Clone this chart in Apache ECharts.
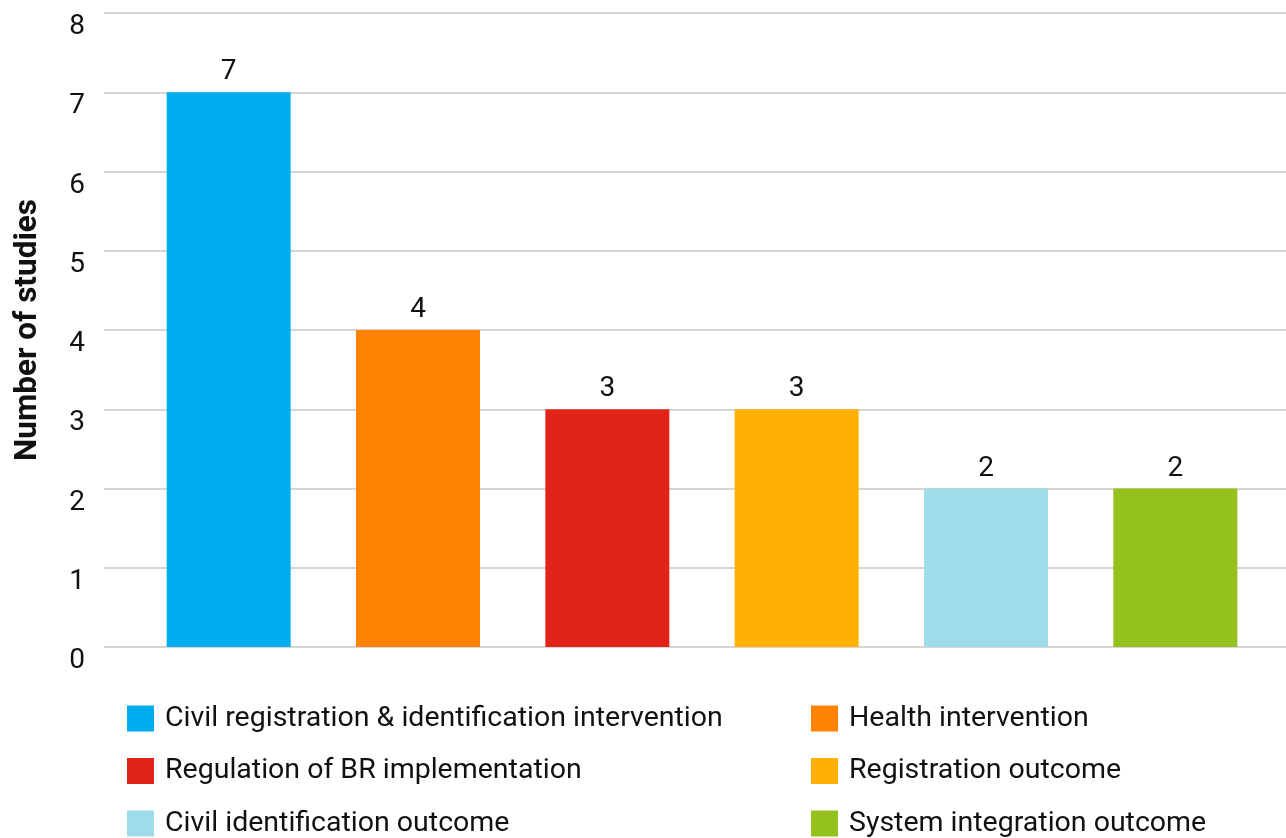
<!DOCTYPE html>
<html>
<head>
<meta charset="utf-8">
<script src="https://cdn.jsdelivr.net/npm/echarts@6/dist/echarts.min.js"></script>
<style>
  html, body { margin: 0; padding: 0; background: #fff; }
  #chart { width: 1286px; height: 838px; }
</style>
</head>
<body>
<div id="chart"></div>
<script>
const categories = [
  'Civil registration & identification intervention',
  'Health intervention',
  'Regulation of BR implementation',
  'Registration outcome',
  'Civil identification outcome',
  'System integration outcome'
];
const studyCounts = [7, 4, 3, 3, 2, 2];
const barColors = ['#00adee', '#ff8200', '#e2231a', '#ffb000', '#9ddce8', '#95c11f'];
const yTicks = [0, 1, 2, 3, 4, 5, 6, 7, 8];

const font = 'Roboto';
const chart = echarts.init(document.getElementById('chart'));

// one series per category so each gets its own legend entry
const series = categories.map((name, i) => ({
  name,
  type: 'bar',
  stack: 'all',
  xAxisIndex: 1,
  yAxisIndex: 1,
  barWidth: 124,
  itemStyle: { color: barColors[i] },
  label: {
    show: true,
    position: 'top',
    distance: 6,
    fontFamily: font,
    fontSize: 28,
    color: '#111',
    formatter: p => p.value
  },
  data: categories.map((c, j) => (j === i ? studyCounts[i] : '-'))
}));

const legendBase = {
  orient: 'vertical',
  padding: 0,
  height: 220,
  itemWidth: 27,
  itemHeight: 26,
  itemGap: 23.5,
  icon: 'rect',
  selectedMode: false,
  textStyle: { fontFamily: font, fontSize: 28.5, color: '#111', padding: [0, 0, 0, 6] }
};

chart.setOption({
  animation: false,
  grid: [
    // wide grid: gridlines and y labels
    { left: 104, right: 0, top: 13, bottom: 191 },
    // inner grid: bars
    { left: 134, right: 16, top: 13, bottom: 191 }
  ],
  legend: [
    Object.assign({}, legendBase, { left: 127, top: 704, data: categories.filter((c, i) => i % 2 === 0) }),
    Object.assign({}, legendBase, { left: 811, top: 704, data: categories.filter((c, i) => i % 2 === 1) })
  ],
  xAxis: [
    { type: 'value', gridIndex: 0, show: false, min: 0, max: 1 },
    {
      type: 'category',
      gridIndex: 1,
      data: categories,
      axisLine: { show: false },
      axisTick: { show: false },
      axisLabel: { show: false }
    }
  ],
  yAxis: [
    {
      type: 'value',
      gridIndex: 0,
      min: yTicks[0],
      max: yTicks[yTicks.length - 1],
      interval: 1,
      name: 'Number of studies',
      nameLocation: 'middle',
      nameGap: 60,
      nameTextStyle: { fontFamily: font, fontSize: 31.5, fontWeight: 'bold', color: '#111' },
      axisLine: { show: false },
      axisTick: { show: false },
      axisLabel: {
        fontFamily: font,
        fontSize: 28,
        color: '#111',
        margin: 19,
        verticalAlign: 'top',
        padding: [0, 0, 0, 0]
      },
      splitLine: { lineStyle: { color: '#d9d5d0', width: 2 } }
    },
    {
      type: 'value',
      gridIndex: 1,
      min: yTicks[0],
      max: yTicks[yTicks.length - 1],
      interval: 1,
      show: false
    }
  ],
  series
});
</script>
</body>
</html>
